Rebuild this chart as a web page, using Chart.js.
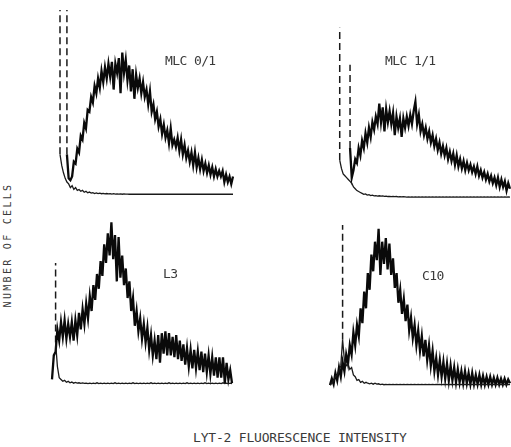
<!DOCTYPE html>
<html>
<head>
<meta charset="utf-8">
<script src="https://cdn.jsdelivr.net/npm/chart.js@4"></script>
<style>
  html,body{margin:0;padding:0;background:#fff;}
  #page{position:relative;width:511px;height:447px;overflow:hidden;background:#fff;}
  canvas{position:absolute;}
  .txt{position:absolute;font-family:"DejaVu Sans Mono",monospace;color:#3a3a3a;white-space:nowrap;}
  .ptitle{font-size:13px;line-height:13px;letter-spacing:-0.6px;}
  .xlab{font-size:13px;line-height:13px;letter-spacing:-0.2px;}
  .ylab{font-size:10px;line-height:10px;letter-spacing:2.3px;width:140px;text-align:center;transform:rotate(-90deg);transform-origin:50% 50%;}
</style>
</head>
<body>
<div id="page"></div>
<script>
// ---- DATA (channel 0..100 along x, relative cell number 0..100 along y) ----
const channels = Array.from({length:101},(_,i)=>i);
const panelTitles = ['MLC 0/1','MLC 1/1','L3','C10'];
const xAxisTitle = 'LYT-2 FLUORESCENCE INTENSITY';
const yAxisTitle = 'NUMBER OF CELLS';

const mlc01Sample = [null,null,null,null,22,9,8,10,18,17,
 25,23,32,30,39,36,46,45,53,50,
 59,55,63,58,67,61,69,63,71,64,
 72,57,71,66,74,55,77,66,73,62,
 70,56,68,52,65,58,63,55,61,53,
 57,49,56,45,49,41,45,37,41,33,
 38,31,35,28,36,27,30,26,31,24,
 30,22,27,20,24,18,23,16,23,15,
 20,14,19,13,17,12,16,11,15,10,
 14,10,13,10,13,7,11,7,10,6,
 10];
const mlc01Control = [22,16,12,9,7,6,4,5,3,4,
 2.5,3,2,2.5,1.5,2,1.2,1.6,1,1.3,
 0.8,1.1,0.8,1,0.7,0.9,0.6,0.8,0.6,0.7,
 0.5,0.7,0.5,0.6,0.5,0.6,0.4,0.6,0.5,0.5,
 0.4,0.5,0.4,0.5,0.4,0.5,0.4,0.5,0.4,0.5,
 0.4,0.5,0.4,0.5,0.4,0.5,0.4,0.5,0.4,0.5,
 0.4,0.5,0.4,0.5,0.4,0.5,0.4,0.5,0.4,0.5,
 0.4,0.5,0.4,0.5,0.4,0.5,0.4,0.5,0.4,0.5,
 0.4,0.5,0.4,0.5,0.4,0.5,0.4,0.5,0.4,0.5,
 0.4,0.5,0.4,0.5,0.4,0.5,0.4,0.5,0.4,0.5,
 0.4];
const mlc01SpikeChannels = [0,4];
const mlc01SpikeTops = [100,100];
const mlc01SpikeOf = ['control','sample'];

const mlc11Sample = [null,null,null,null,null,null,null,27,11,15,
 21,19,27,23,31,27,35,30,38,33,
 41,37,44,40,51,41,49,36,48,41,
 47,40,46,34,44,38,43,33,43,38,
 44,39,45,40,47,52,40,45,36,40,
 34,38,32,36,30,34,28,32,26,30,
 24,28,23,27,21,25,20,24,18,23,
 17,21,16,20,15,19,15,18,14,17,
 13,17,12,15,11,14,10,13,9,12,
 8,11,7,11,6,10,6,9,4,8,
 5];
const mlc11Control = [null,20.5,16,13,12,11,10,9,8,6,
 5,4,3.5,3,2.5,2,2.2,1.6,1.8,1.3,
 1.5,1.2,1.3,1,1.2,1,1.1,0.9,1,0.8,
 0.9,0.7,0.8,0.7,0.8,0.6,0.7,0.6,0.7,0.6,
 0.5,0.6,0.5,0.6,0.5,0.6,0.5,0.6,0.5,0.6,
 0.5,0.6,0.5,0.6,0.5,0.6,0.5,0.6,0.5,0.6,
 0.5,0.6,0.5,0.6,0.5,0.6,0.5,0.6,0.5,0.6,
 0.5,0.6,0.5,0.6,0.5,0.6,0.5,0.6,0.5,0.6,
 0.5,0.6,0.5,0.6,0.5,0.6,0.5,0.6,0.5,0.6,
 0.5,0.6,0.5,0.6,0.5,0.6,0.5,0.6,0.5,0.6,
 0.5];
const mlc11SpikeChannels = [1,7];
const mlc11SpikeTops = [92,72];
const mlc11SpikeOf = ['control','sample'];

const l3Sample = [3,16,18,30,24,34,26,35,25,33,
 26,34,24,35,27,39,30,41,33,44,
 36,48,40,54,46,60,52,67,59,76,
 66,82,70,88,68,81,56,80,58,70,
 54,63,47,56,40,47,32,40,29,36,
 25,33,23,31,19,27,16,24,14,27,
 12,28,17,29,16,28,16,26,15,27,
 14,24,13,22,11,20,10,19,9,19,
 9,18,8,18,7,17,7,16,6,15,
 5,15,4,15,4,15,1,12,3,8,
 1];
const l3Control = [null,null,23,10,4,3,2,2.5,1.5,2,
 1.2,1.6,1,1.4,1,1.2,0.9,1.1,0.9,1,
 0.8,1,0.8,1,0.8,1.2,0.8,1,0.8,1,
 0.8,1,0.8,1,0.8,1.2,0.8,1,0.8,1,
 0.8,1,0.8,1,0.8,1.2,0.8,1,0.8,1,
 0.8,1,0.8,1,0.8,1.2,0.8,1,0.8,1,
 0.8,1,0.8,1,0.8,1.2,0.8,1,0.8,1,
 0.8,1,0.8,1,0.8,1.2,0.8,1,0.8,1,
 0.8,1,0.8,1,0.8,1.2,0.8,1,0.8,1,
 0.8,1,0.8,1,0.8,1.2,0.8,1,0.8,1,
 0.8];
const l3SpikeChannels = [2];
const l3SpikeTops = [66];
const l3SpikeOf = ['control'];

const c10Sample = [0.5,4,1,7,3,10,5,13,8,17,
 12,22,17,29,22,33,27,42,34,51,
 42,61,52,71,62,78,68,85,60,78,
 66,80,63,77,60,69,53,61,45,52,
 39,47,35,44,30,37,26,33,22,30,
 19,27,16,25,14,22,11,19,8,15,
 6,14,5,13,4,12,3,11,3,10,
 2,9,2,8,1.5,8,1.5,7,1,7,
 1,6,1,6,0.8,5.5,0.8,5,0.8,5,
 0.8,4.5,0.8,4.5,0.8,4,0.8,4,0.8,3.5,
 1.5];
const c10Control = [0.5,1.5,3,5,6,8,11,25,14,11,
 12,9,10,6,5,3,3.5,2,2.5,1.5,
 2,1.5,1.2,1.5,1,1.5,1,1.2,0.8,1,
 0.7,0.9,0.7,0.9,0.7,0.9,0.7,0.9,0.7,0.9,
 0.7,0.9,0.7,0.9,0.7,0.9,0.7,0.9,0.7,0.9,
 0.7,0.9,0.7,0.9,0.7,0.9,0.7,0.9,0.7,0.9,
 0.7,0.9,0.7,0.9,0.7,0.9,0.7,0.9,0.7,0.9,
 0.7,0.9,0.7,0.9,0.7,0.9,0.7,0.9,0.7,0.9,
 0.7,0.9,0.7,0.9,0.7,0.9,0.7,0.9,0.7,0.9,
 0.7,0.9,0.7,0.9,0.7,0.9,0.7,0.9,0.7,0.9,
 0.7];
const c10SpikeChannels = [7];
const c10SpikeTops = [87];
const c10SpikeOf = ['control'];

// ---- LAYOUT ----
const PAD = 4;
const panels = [
  {title:panelTitles[0], sample:mlc01Sample, control:mlc01Control, spikeCh:mlc01SpikeChannels, spikeTop:mlc01SpikeTops, spikeOf:mlc01SpikeOf,
   box:{left:60, top:10, w:173, h:185}, label:{left:165, top:53.5}},
  {title:panelTitles[1], sample:mlc11Sample, control:mlc11Control, spikeCh:mlc11SpikeChannels, spikeTop:mlc11SpikeTops, spikeOf:mlc11SpikeOf,
   box:{left:338, top:13, w:172, h:185}, label:{left:385, top:54}},
  {title:panelTitles[2], sample:l3Sample, control:l3Control, spikeCh:l3SpikeChannels, spikeTop:l3SpikeTops, spikeOf:l3SpikeOf,
   box:{left:52, top:200, w:180, h:185}, label:{left:163, top:266.5}},
  {title:panelTitles[3], sample:c10Sample, control:c10Control, spikeCh:c10SpikeChannels, spikeTop:c10SpikeTops, spikeOf:c10SpikeOf,
   box:{left:330, top:201, w:180, h:185}, label:{left:422, top:268.5}}
];

const page = document.getElementById('page');

function toPoints(arr){ return arr.map((v,i)=>({x:channels[i], y:v})); }

panels.forEach(p=>{
  const cv = document.createElement('canvas');
  cv.width = p.box.w + 2*PAD;
  cv.height = p.box.h + 2*PAD;
  cv.style.left = (p.box.left - PAD) + 'px';
  cv.style.top = (p.box.top - PAD) + 'px';
  page.appendChild(cv);

  const datasets = [
    {data:toPoints(p.control), borderColor:'#1a1a1a', borderWidth:1.3, clip:false, spanGaps:false},
    {data:toPoints(p.sample), borderColor:'#0a0a0a', borderWidth:2.3, clip:false, spanGaps:false}
  ];
  p.spikeCh.forEach((ch,k)=>{
    const src = p.spikeOf[k]==='sample' ? p.sample : p.control;
    datasets.push({data:[{x:ch, y:src[ch]},{x:ch, y:p.spikeTop[k]}], borderColor:'#1a1a1a', borderWidth:1.5, borderDash:[7,4], clip:false});
  });

  new Chart(cv, {
    type:'line',
    data:{datasets},
    options:{
      responsive:false, animation:false, events:[],
      layout:{padding:PAD},
      plugins:{legend:{display:false}, tooltip:{enabled:false}},
      elements:{point:{radius:0}, line:{tension:0}},
      scales:{
        x:{type:'linear', min:0, max:100, display:false},
        y:{type:'linear', min:0, max:100, display:false}
      }
    }
  });

  const t = document.createElement('div');
  t.className = 'txt ptitle';
  t.textContent = p.title;
  t.style.left = p.label.left + 'px';
  t.style.top = p.label.top + 'px';
  page.appendChild(t);
});

const xl = document.createElement('div');
xl.className = 'txt xlab';
xl.textContent = xAxisTitle;
xl.style.left = '193px';
xl.style.top = '430.5px';
page.appendChild(xl);

const yl = document.createElement('div');
yl.className = 'txt ylab';
yl.textContent = yAxisTitle;
yl.style.left = '-62.5px';
yl.style.top = '240px';
page.appendChild(yl);
</script>
</body>
</html>
